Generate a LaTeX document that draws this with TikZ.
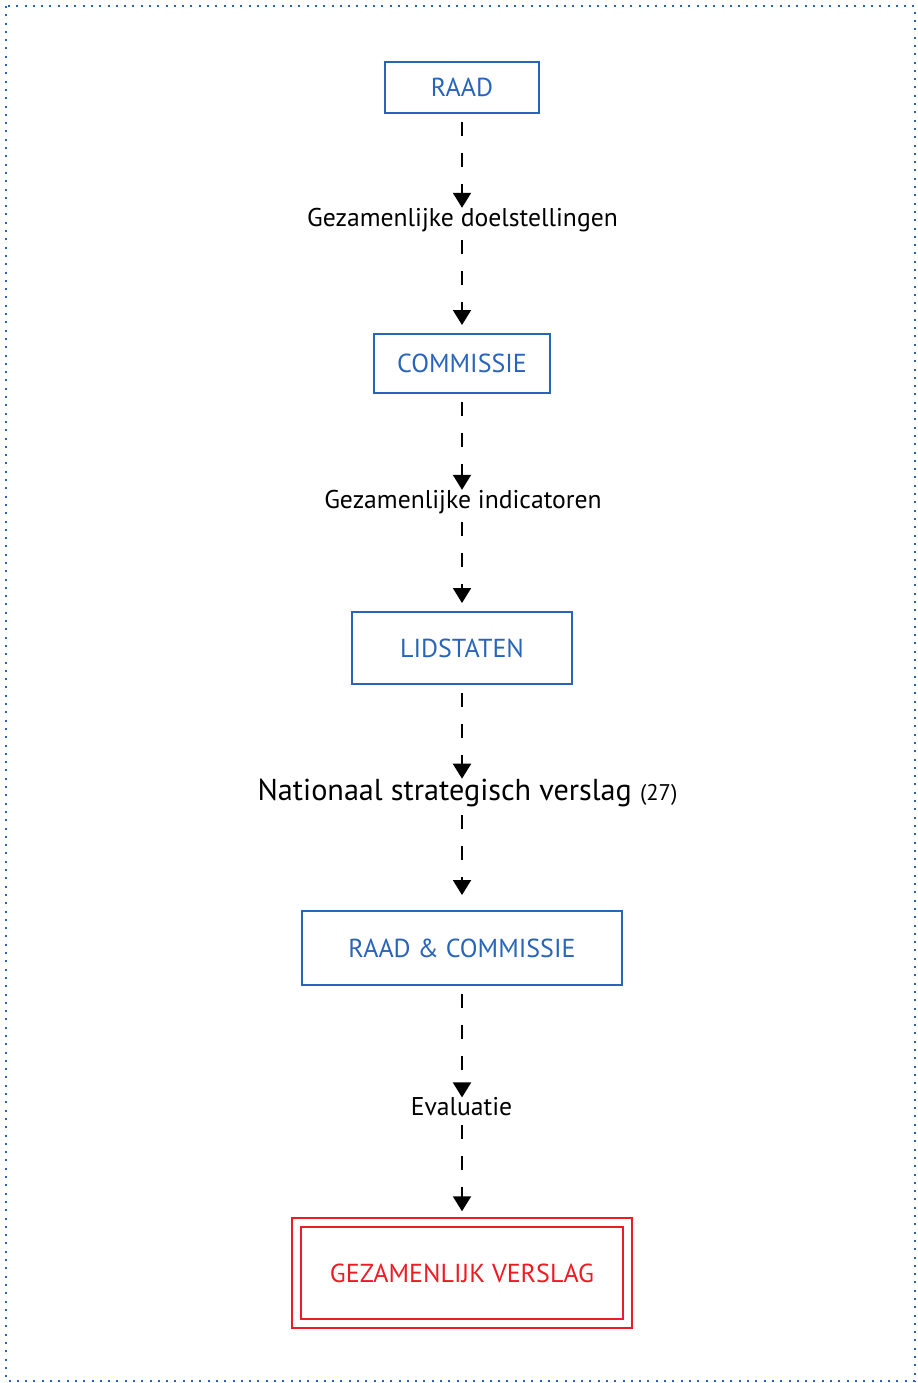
\documentclass[tikz,border=0pt]{standalone}
\usepackage{fontspec}
\setmainfont{PT Sans}
\usetikzlibrary{arrows.meta,positioning}
\definecolor{eublauw}{RGB}{40,100,185}
\definecolor{eurood}{RGB}{237,28,36}

\tikzset{
  orgaan/.style={draw=eublauw, line width=0.04cm, text=eublauw,
                 font=\fontsize{14.8}{17}\selectfont, inner sep=0pt},
  stroom/.style={font=\fontsize{14.6}{17}\selectfont, inner sep=0pt},
  pijl/.style={line width=0.04cm, dash pattern=on 0.28cm off 0.34cm,
               shorten <=0.16cm,
               -{Triangle[width=0.36cm,length=0.30cm]}},
}

\begin{document}
\begin{tikzpicture}[x=0.02cm, y=-0.02cm]
    \useasboundingbox (0,0) rectangle (918,1383);
    % kader
    \draw[eublauw, line width=0.04cm, dash pattern=on 0.04cm off 0.126cm]
         (6,6) rectangle (915,1381);
    % organen
    \node[orgaan, minimum width=3.08cm, minimum height=1.02cm]
         (raad) at (462,87.5) {RAAD};
    \node[orgaan, minimum width=3.54cm, minimum height=1.18cm]
         (commissie) at (462,363.5) {COMMISSIE};
    \node[orgaan, minimum width=4.40cm, minimum height=1.44cm]
         (lidstaten) at (462,648) {LIDSTATEN};
    \node[orgaan, minimum width=6.40cm, minimum height=1.48cm]
         (raadcie) at (462,948) {RAAD \& COMMISSIE};
    \node[orgaan, draw=eurood, text=eurood, double=white,
          double distance=0.14cm, minimum width=6.62cm, minimum height=2.03cm]
         (verslag) at (462,1273) {GEZAMENLIJK VERSLAG};
    % tussenstappen
    \node[stroom] (doelen) at (462.5,220) {Gezamenlijke doelstellingen};
    \node[stroom] (indic) at (463,502) {Gezamenlijke indicatoren};
    \node[stroom, font=\fontsize{17.2}{20}\selectfont] (nsv) at (467.5,793)
         {Nationaal strategisch verslag {\fontsize{12.9}{15}\selectfont(27)}};
    \node[stroom] (eval) at (461.5,1107) {Evaluatie};
    % pijlen
    \draw[pijl] (raad.south) -- (raad.south |- doelen.north);
    \draw[pijl, shorten >=0.16cm] (commissie.north |- doelen.south) -- (commissie.north);
    \draw[pijl] (commissie.south) -- (commissie.south |- indic.north);
    \draw[pijl, shorten >=0.16cm] (lidstaten.north |- indic.south) -- (lidstaten.north);
    \draw[pijl] (lidstaten.south) -- (lidstaten.south |- nsv.north);
    \draw[pijl, shorten >=0.3cm] (raadcie.north |- nsv.south) -- (raadcie.north);
    \draw[pijl] (raadcie.south) -- (raadcie.south |- eval.north);
    \draw[pijl, shorten >=0.2cm] (verslag.north |- eval.south) -- (verslag.north);
\end{tikzpicture}
\end{document}
